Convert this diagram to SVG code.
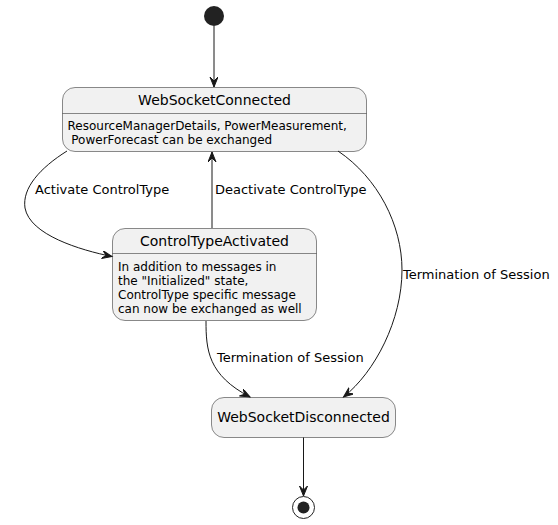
<svg xmlns="http://www.w3.org/2000/svg" width="558" height="525" viewBox="0 0 558 525">
<style>
.st{fill:#F1F1F1;stroke:#181818;stroke-width:0.5}
.div{stroke:#181818;stroke-width:0.5}
.t{font-family:"DejaVu Sans",sans-serif;font-size:14px;fill:#000}
.b{font-family:"DejaVu Sans",sans-serif;font-size:12px;fill:#000}
.l{font-family:"DejaVu Sans",sans-serif;font-size:13px;fill:#000}
.e{fill:none;stroke:#181818;stroke-width:1;marker-end:url(#ah)}
</style>
<defs>
<marker id="ah" markerUnits="userSpaceOnUse" markerWidth="12" markerHeight="10" refX="10" refY="4" orient="auto" viewBox="0 0 12 10">
<path d="M0,0 L10,4 L0,8 L4,4 Z" fill="#181818" stroke="#181818" stroke-width="1"/>
</marker>
</defs>
<rect width="558" height="525" fill="#FFFFFF"/>
<g id="start"><circle cx="214" cy="16" r="10" fill="#222222"/></g>
<g id="WebSocketConnected">
<rect class="st" x="62.5" y="87.5" width="304" height="64" rx="12.5"/>
<line class="div" x1="62.5" y1="113.5" x2="366.5" y2="113.5"/>
<text class="t" x="214.5" y="105" text-anchor="middle">WebSocketConnected</text>
<text class="b" x="67.5" y="130">ResourceManagerDetails, PowerMeasurement,</text>
<text class="b" x="67.5" y="144" xml:space="preserve"> PowerForecast can be exchanged</text>
</g>
<g id="ControlTypeActivated">
<rect class="st" x="112.5" y="228.5" width="204" height="92" rx="12.5"/>
<line class="div" x1="112.5" y1="253.5" x2="316.5" y2="253.5"/>
<text class="t" x="214.5" y="246" text-anchor="middle">ControlTypeActivated</text>
<text class="b" x="118" y="271">In addition to messages in</text>
<text class="b" x="118" y="285">the "Initialized" state,</text>
<text class="b" x="118" y="299">ControlType specific message</text>
<text class="b" x="118" y="313">can now be exchanged as well</text>
</g>
<g id="WebSocketDisconnected">
<rect class="st" x="211.5" y="397.5" width="184" height="40" rx="12.5"/>
<text class="t" x="303.5" y="422" text-anchor="middle">WebSocketDisconnected</text>
</g>
<g id="end">
<circle cx="303.5" cy="507.5" r="11" fill="none" stroke="#222222" stroke-width="1"/>
<circle cx="303.5" cy="507.5" r="6" fill="#222222"/>
</g>
<g id="connectors">
<path class="e" d="M214,26 L214,87"/>
<path class="e" d="M67,151 C40,168 22,188 25,208 C30,235 80,250 112,256.5"/>
<path class="e" d="M212,228 L212,152"/>
<path class="e" d="M338,151 C378,178 402,225 402,270 C402,320 375,372 343.5,397"/>
<path class="e" d="M206,321 C206,350 208,375 250,397"/>
<path class="e" d="M303.5,437.5 L303.5,496"/>
<text class="l" x="35" y="194">Activate ControlType</text>
<text class="l" x="215" y="194">Deactivate ControlType</text>
<text class="l" x="403" y="279">Termination of Session</text>
<text class="l" x="217" y="362">Termination of Session</text>
</g>
</svg>
